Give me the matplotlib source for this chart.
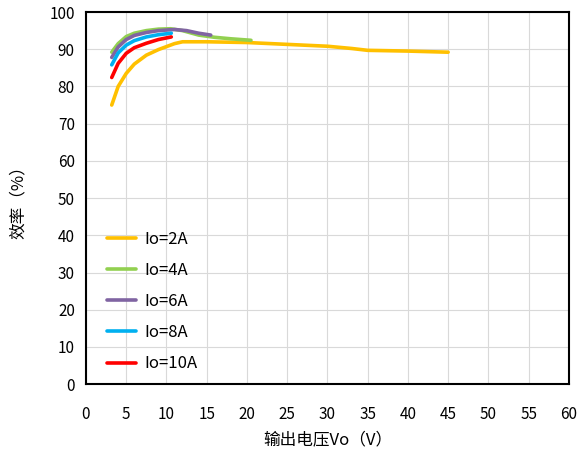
import matplotlib
matplotlib.use("Agg")
import matplotlib.pyplot as plt

plt.rcParams['font.family'] = ['Noto Sans CJK SC', 'DejaVu Sans']

# efficiency vs output voltage, one curve per load current
vo_2a = [3.2, 4.0, 5.0, 6.0, 7.5, 9.0, 10.0, 11.0, 12.0, 15.0, 20.0, 25.0, 30.0, 33.0, 35.0, 40.0, 45.0]
eff_2a = [75.0, 80.0, 83.5, 86.0, 88.4, 89.9, 90.7, 91.5, 92.0, 92.0, 91.8, 91.3, 90.8, 90.2, 89.7, 89.5, 89.2]

vo_4a = [3.2, 4.0, 5.0, 6.0, 7.5, 9.0, 10.5, 12.0, 14.0, 16.0, 18.0, 20.5]
eff_4a = [89.2, 91.5, 93.4, 94.3, 95.0, 95.4, 95.5, 95.0, 93.8, 93.2, 92.8, 92.4]

vo_6a = [3.2, 4.0, 5.0, 6.0, 7.5, 9.0, 11.0, 12.5, 14.0, 15.5]
eff_6a = [87.8, 90.6, 92.6, 93.7, 94.5, 95.0, 95.3, 95.0, 94.3, 93.8]

vo_8a = [3.2, 4.0, 5.0, 6.0, 7.5, 9.0, 10.6]
eff_8a = [85.8, 89.0, 91.1, 92.3, 93.3, 93.9, 94.3]

vo_10a = [3.2, 4.0, 5.0, 6.0, 7.5, 9.0, 10.6]
eff_10a = [82.4, 86.2, 88.9, 90.4, 91.6, 92.6, 93.3]

labels = ["Io=2A", "Io=4A", "Io=6A", "Io=8A", "Io=10A"]
colors = ["#FFC000", "#92D050", "#8064A2", "#00B0F0", "#FF0000"]

x_ticks = list(range(0, 61, 5))
y_ticks = list(range(0, 101, 10))

fig = plt.figure(figsize=(5.79, 4.53), dpi=100)
ax = fig.add_axes([0.1485, 0.152, 0.834, 0.8215])

series = [(vo_2a, eff_2a), (vo_4a, eff_4a), (vo_6a, eff_6a), (vo_8a, eff_8a), (vo_10a, eff_10a)]
for (xs, ys), lab, c in zip(series, labels, colors):
    ax.plot(xs, ys, color=c, lw=2.6, label=lab, solid_capstyle="round")

ax.set_xlim(0, 60)
ax.set_ylim(0, 100)
ax.set_xticks(x_ticks)
ax.set_yticks(y_ticks)
ax.grid(True, color="#D9D9D9", lw=0.8)
ax.set_axisbelow(True)
ax.tick_params(axis="y", length=0, labelsize=11, pad=8)
ax.tick_params(axis="x", length=0, labelsize=11, pad=16)
for s in ax.spines.values():
    s.set_linewidth(1.5)
    s.set_color("black")

ax.set_xlabel("输出电压Vo（V）", fontsize=12, labelpad=6)
ax.set_ylabel("效率（%）", fontsize=12, labelpad=16)

leg = ax.legend(loc="lower left", frameon=False, fontsize=12, handlelength=1.7,
                handletextpad=0.5, labelspacing=0.85, borderaxespad=0.3,
                bbox_to_anchor=(0.02, 0.0))

fig.savefig("out.png", dpi=100)
